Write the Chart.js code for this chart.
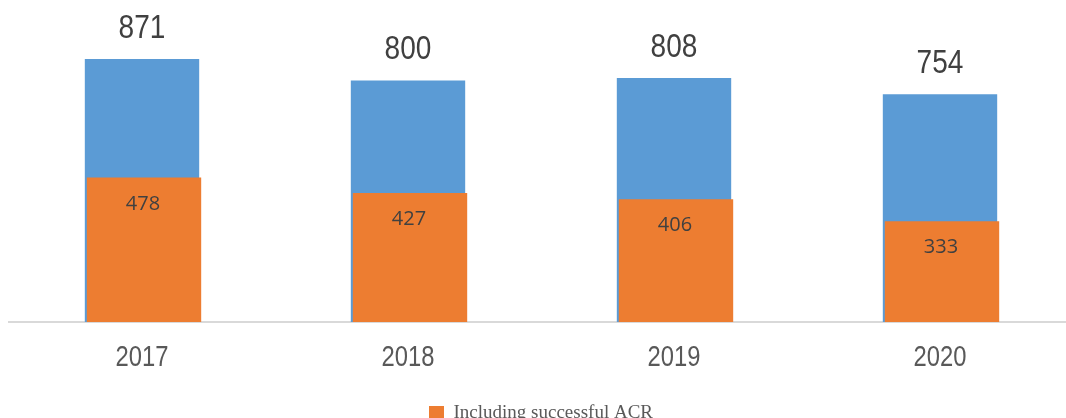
<!DOCTYPE html>
<html>
<head>
<meta charset="utf-8">
<script src="https://cdn.jsdelivr.net/npm/chart.js@4"></script>
<style>
html,body{margin:0;padding:0;background:#fff;overflow:hidden;}
#wrap{width:1073px;height:433px;position:relative;}
</style>
</head>
<body>
<div id="wrap"><canvas id="c" width="1073" height="433"></canvas></div>
<script>
const categories = ['2017', '2018', '2019', '2020'];
const totalValues = [871, 800, 808, 754];
const acrValues = [478, 427, 406, 333];
const seriesNames = ['Total', 'Including successful ACR'];

const BLUE = '#5b9bd5', ORANGE = '#ed7d31';
const SANS = "'Liberation Sans', Arial, sans-serif";

// Narrow-look: squeeze the year tick labels horizontally around their anchor
const narrowTicks = {
  id: 'narrowTicks',
  beforeDraw(chart) {
    const sc = chart.scales.x;
    if (sc && !sc._narrowWrapped) {
      const orig = sc.drawLabels;
      sc.drawLabels = function(area) {
        const ctx = this.ctx;
        const r = ctx.rotate;
        ctx.rotate = function(a) { r.call(this, a); this.scale(0.82, 1); };
        try { orig.call(this, area); } finally { ctx.rotate = r; }
      };
      sc._narrowWrapped = true;
    }
  }
};

const shiftPlugin = {
  id: 'shift',
  beforeDatasetDraw(chart, args) {
    if (args.index === 1) { chart.ctx.save(); chart.ctx.translate(2, 0); }
  },
  afterDatasetDraw(chart, args) {
    if (args.index === 1) chart.ctx.restore();
  }
};

const labelPlugin = {
  id: 'labels',
  afterDatasetsDraw(chart) {
    const ctx = chart.ctx;
    const m0 = chart.getDatasetMeta(0), m1 = chart.getDatasetMeta(1);
    ctx.save();
    ctx.textAlign = 'center';
    ctx.textBaseline = 'alphabetic';
    ctx.fillStyle = '#404040';
    ctx.font = "33px " + SANS;
    m0.data.forEach((el, i) => {
      ctx.save();
      ctx.translate(el.x, el.y - 21);
      ctx.scale(0.85, 1);
      ctx.fillText(String(totalValues[i]), 0, 0);
      ctx.restore();
    });
    ctx.font = "20px 'Open Sans', sans-serif";
    ctx.fillStyle = '#404040';
    m1.data.forEach((el, i) => {
      ctx.fillText(String(acrValues[i]), el.x + 1, el.y + 32);
    });
    ctx.restore();
  }
};

new Chart(document.getElementById('c'), {
  type: 'bar',
  data: {
    labels: categories,
    datasets: [
      { label: seriesNames[0], data: totalValues, backgroundColor: BLUE, grouped: false,
        barPercentage: 0.43, categoryPercentage: 1, order: 2 },
      { label: seriesNames[1], data: acrValues, backgroundColor: ORANGE, grouped: false,
        barPercentage: 0.43, categoryPercentage: 1, order: 1 }
    ]
  },
  options: {
    responsive: false,
    animation: false,
    layout: { padding: { left: 9, right: 0, top: 20, bottom: 0 } },
    scales: {
      x: {
        grid: { display: false, drawTicks: false },
        border: { display: true, color: '#d9d9d9', width: 2 },
        ticks: { color: '#595959', font: { family: SANS, size: 29, lineHeight: 0.9 }, padding: 23 }
      },
      y: {
        display: false,
        min: 0, max: 1000
      }
    },
    plugins: {
      legend: {
        position: 'bottom',
        labels: {
          filter: (item) => item.datasetIndex === 1,
          boxWidth: 15, boxHeight: 15,
          color: '#595959',
          font: { family: "'Liberation Serif', serif", size: 19 },
          padding: 10
        }
      },
      tooltip: { enabled: false }
    }
  },
  plugins: [narrowTicks, shiftPlugin, labelPlugin]
});
</script>
</body>
</html>
